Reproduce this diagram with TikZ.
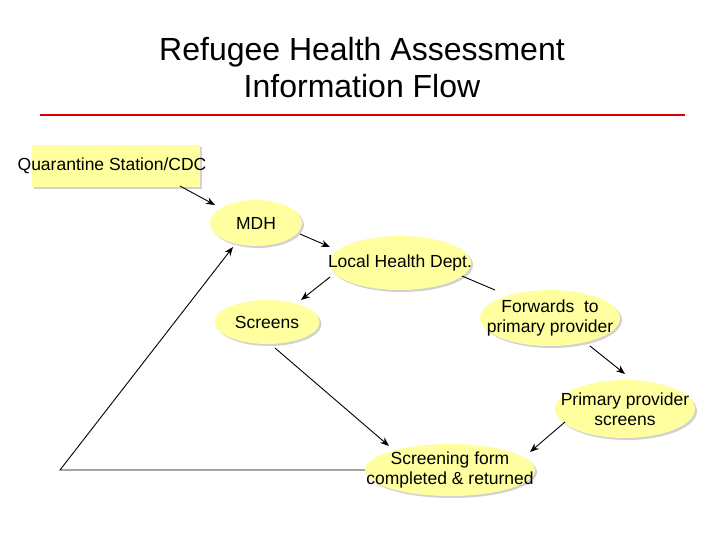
\documentclass[tikz,border=0pt]{standalone}
\usepackage{fontspec}
\setmainfont{Liberation Sans}
\usetikzlibrary{shapes.geometric,shadows,arrows.meta}
\definecolor{fillY}{RGB}{255,255,160}
\begin{document}
\begin{tikzpicture}[x=1pt,y=-1pt,
  ell/.style={ellipse,fill=fillY,inner sep=0pt,drop shadow={shadow xshift=2pt,shadow yshift=-2pt,fill=gray!70}},
  txt/.style={font=\fontsize{17.5}{20}\selectfont,align=center,inner sep=0pt},
  arr/.style={-{Stealth[length=9pt,width=7pt]},line width=0.9pt}]
\useasboundingbox (0,0) rectangle (720,540);
\node[font=\fontsize{32}{37}\selectfont,align=center] (title) at (362,68) {Refugee Health Assessment\\Information Flow};
\draw[red!85!black,line width=2pt] (40,115) -- (685,115);
\node[fill=fillY,minimum width=168pt,minimum height=42pt,inner sep=0pt,drop shadow={shadow xshift=2pt,shadow yshift=-2pt,fill=gray!70}] (qs) at (116,166) {};
\node[txt] (qst) at (112,166) {Quarantine Station/CDC};
\node[ell,minimum width=92pt,minimum height=46pt] (mdh) at (256,223) {};
\node[txt] (mdht) at (mdh) {MDH};
\node[ell,minimum width=142pt,minimum height=54pt] (lhd) at (400,263) {};
\node[txt] (lhdt) at (lhd) {Local Health Dept.};
\node[ell,minimum width=105pt,minimum height=44pt] (scr) at (267,322) {};
\node[txt] (scrt) at (scr) {Screens};
\node[ell,minimum width=140pt,minimum height=56pt] (fwd) at (550,318) {};
\node[txt] (fwdt) at (fwd) {Forwards\ \ to\\primary provider};
\node[ell,minimum width=140pt,minimum height=58pt] (pps) at (625,409) {};
\node[txt] (ppst) at (pps) {Primary provider\\screens};
\node[ell,minimum width=170pt,minimum height=52pt] (sf) at (450,470) {};
\node[txt] (sft) at (sf) {Screening form\\completed \& returned};
\coordinate (c1) at (60,470);
\draw[arr] (180,186) -- (215,205);
\draw[arr] (300,234) -- (330,247);
\draw[arr] (330,277) -- (301,300);
\draw[line width=0.9pt] (462,276) -- (495,290);
\draw[arr] (590,346) -- (625,374);
\draw[arr] (565,422) -- (530,452);
\draw[arr] (275,348) -- (389,446);
\draw[arr] (sf.west) -- (c1) -- (233,247);
\end{tikzpicture}
\end{document}
